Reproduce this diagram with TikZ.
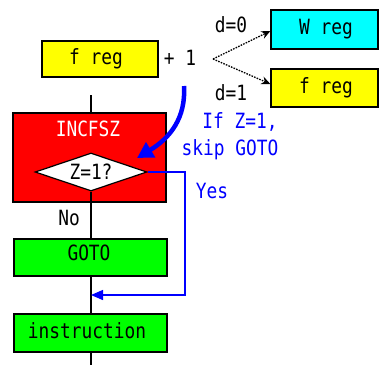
\documentclass[tikz,border=0pt]{standalone}
\usepackage{fontspec}
\usetikzlibrary{shapes.geometric,arrows.meta}
\newfontfamily\gf[FakeStretch=0.85]{DejaVu Sans Mono}
\definecolor{yel}{RGB}{255,255,0}
\definecolor{cya}{RGB}{0,255,255}
\definecolor{rd}{RGB}{255,0,0}
\definecolor{grn}{RGB}{0,255,0}
\definecolor{blu}{RGB}{0,0,255}
\begin{document}
\begin{tikzpicture}[x=1pt,y=-1pt,
  txt/.style={font=\gf\fontsize{21}{22}\selectfont, inner sep=0pt},
  box/.style={draw=black, line width=1.3pt, rectangle, inner sep=0pt},
  conn/.style={line width=1.2pt},
  bl/.style={draw=blu, line width=1.3pt},
  dotarrow/.style={line width=1.3pt, dash pattern=on 1.6pt off 1.2pt, -{Stealth[length=9pt,width=8pt]}},
  ]
\useasboundingbox (0,0) rectangle (379,365);
% boxes
\node[box, fill=yel, minimum width=116pt, minimum height=36pt] (freg) at (100,59) {};
\node[txt] at (96,59) {f reg};
\node[txt] (plus) at (180,58) {+ 1};
\coordinate (split) at (213,59);
\node[box, fill=cya, minimum width=107pt, minimum height=39pt] (wreg) at (324.5,29.5) {};
\node[txt] at (326,29) {W reg};
\node[box, fill=yel, minimum width=107pt, minimum height=38pt] (freg2) at (324.5,88) {};
\node[txt] at (326,88) {f reg};
\node[txt] (d0) at (231,25) {d=0};
\node[txt] (d1) at (231,93) {d=1};
\draw[dotarrow] (split) -- (wreg.west |- 0,31);
\draw[dotarrow] (split) -- (freg2.west |- 0,84);

% INCFSZ
\node[box, fill=rd, minimum width=153pt, minimum height=89pt] (inc) at (89.5,157.5) {};
\node[txt, text=white] (inct) at (88,129) {INCFSZ};
\node[draw=black, line width=1.2pt, fill=white, diamond, aspect=2.9, inner sep=0pt,
      minimum width=112pt, minimum height=38pt] (dia) at (91,172) {};
\node[txt] at (91,172) {Z=1?};
\coordinate (top) at (91,95);
\draw[conn] (top) -- (top |- inc.north);

% lower boxes
\node[box, fill=grn, minimum width=153pt, minimum height=37pt] (goto) at (90.5,257.5) {};
\node[txt] at (89,253) {GOTO};
\node[box, fill=grn, minimum width=153pt, minimum height=38pt] (instr) at (90.5,333) {};
\node[txt] at (87,331) {instruction};
\coordinate (bot) at (91,365);
\draw[conn] (dia.south) -- (dia.south |- goto.north);
\draw[conn] (dia.south |- goto.south) -- (dia.south |- instr.north);
\draw[conn] (dia.south |- instr.south) -- (bot);
\node[txt] (no) at (69,218) {No};

% Yes branch
\coordinate (y1) at (185,172);
\coordinate (y2) at (185,295);
\coordinate (y3) at (91,295);
\draw[bl, -{Triangle[length=12pt,width=10pt]}] (dia.east) -- (y1) -- (y2) -- (y3);
\node[txt, text=blu] (yes) at (212,191) {Yes};

% thick blue arrow
\coordinate (ba) at (184,86);
\coordinate (bb) at (137,158);
\draw[draw=blu, line width=4.5pt, -{Triangle[length=16pt,width=17pt]}]
  (ba) .. controls (186,118) and (170,138) .. (bb);
\node[txt, text=blu] (if) at (240,122) {If Z=1,};
\node[txt, text=blu] (skip) at (230,150) {skip GOTO};
\end{tikzpicture}
\end{document}
